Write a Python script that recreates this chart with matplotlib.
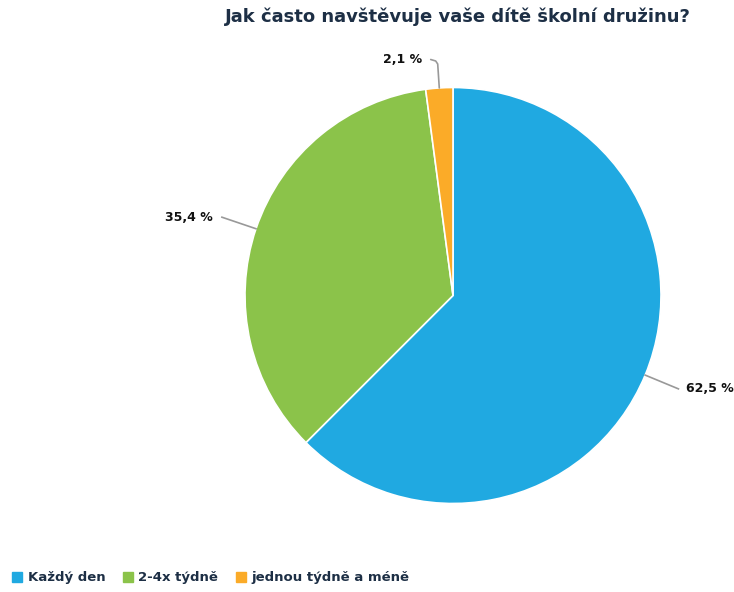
import matplotlib
matplotlib.use("Agg")
import matplotlib.pyplot as plt
import numpy as np
from matplotlib.lines import Line2D

categories = ["Každý den", "2-4x týdně", "jednou týdně a méně"]
values = [62.5, 35.4, 2.1]
labels = ["62,5 %", "35,4 %", "2,1 %"]
colors = ["#20a9e1", "#8bc34a", "#fbab28"]

title = "Jak často navštěvuje vaše dítě školní družinu?"

FAM = ["Liberation Sans Narrow", "DejaVu Sans"]
plt.rcParams['font.family'] = FAM

W, H = 734, 592
fig = plt.figure(figsize=(W / 100, H / 100), dpi=100)
ax = fig.add_axes([0, 0, 1, 1])

cx, cy, r = 453, H - 295.5, 208
wedges, _ = ax.pie(values, colors=colors, startangle=90, counterclock=False,
                   center=(cx, cy), radius=r, frame=True,
                   wedgeprops=dict(edgecolor="white", linewidth=1.2))
ax.set_xlim(0, W)
ax.set_ylim(0, H)
ax.axis("off")
ax.set_aspect("equal")

line_color = "#999999"
for i, (w, lab) in enumerate(zip(wedges, labels)):
    ang = np.deg2rad((w.theta1 + w.theta2) / 2)
    dx, dy = np.cos(ang), np.sin(ang)
    x0, y0 = cx + r * dx, cy + r * dy
    if i == 2:
        x1, y1 = cx + (r + 24) * dx, cy + (r + 24) * dy
        ax.plot([x0, x1, x1 - 2, x1 - 7], [y0, y1, y1 + 3, y1 + 4.5],
                color=line_color, lw=1.2, solid_capstyle="round")
        ax.text(x1 - 16, y1 + 4.5, lab, ha="right", va="center",
                fontsize=9, fontweight="bold", color="#111111")
    else:
        L = 36
        x1, y1 = cx + (r + L) * dx, cy + (r + L) * dy
        ax.plot([x0, x1], [y0, y1], color=line_color, lw=1.2)
        if dx > 0:
            ax.text(x1 + 8, y1, lab, ha="left", va="center",
                    fontsize=9, fontweight="bold", color="#111111")
        else:
            ax.text(x1 - 9, y1, lab, ha="right", va="center",
                    fontsize=9, fontweight="bold", color="#111111")

fig.text(458 / W, 1 - 17 / H, title, ha="center", va="center",
         fontsize=13, fontweight="bold", color="#1d2f45")

handles = [Line2D([0], [0], marker="s", linestyle="none", markersize=7.5,
                  markerfacecolor=c, markeredgecolor=c) for c in colors]
leg = fig.legend(handles, categories, loc="center left",
                 bbox_to_anchor=(0 / W, 1 - 578 / H), ncol=3, frameon=False,
                 handlelength=0.8, handletextpad=0.4, columnspacing=1.3,
                 prop=dict(family=FAM, size=9.5, weight="bold"))
for t in leg.get_texts():
    t.set_color("#1d2f45")

fig.savefig("out.png", dpi=100, facecolor="white")
